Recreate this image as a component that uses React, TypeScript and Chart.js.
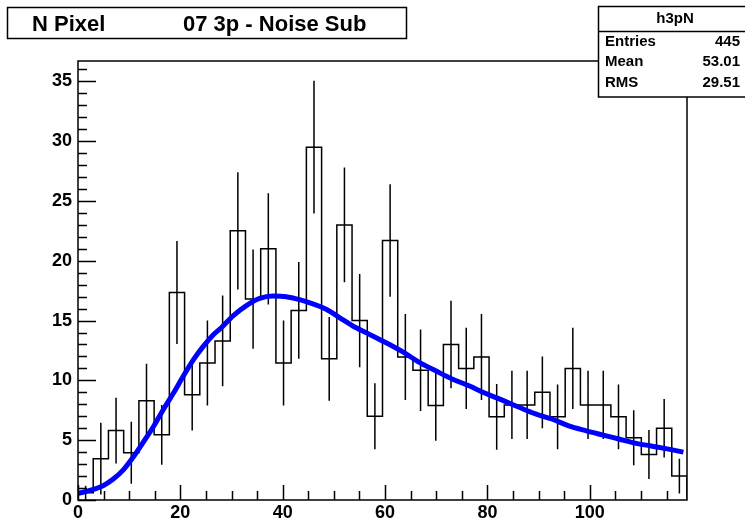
import React, { useEffect, useRef } from "react";
import { Chart, registerables } from "chart.js";

Chart.register(...registerables);

// ---- data ----
const X_MIN = 0;
const X_MAX = 119;
const Y_MIN = 0;
const Y_MAX = 36.7;

const BIN_VALUES = [
  0.6, 3.45, 5.8, 3.95, 8.3, 5.45, 17.35, 8.8, 11.45, 13.3,
  22.5, 16.8, 21.0, 11.45, 15.85, 29.5, 11.8, 23.0, 15.0, 7.0,
  21.7, 11.95, 10.85, 7.9, 13.0, 11.0, 11.95, 6.95, 7.95, 7.95,
  9.0, 6.95, 11.0, 7.95, 7.95, 6.95, 5.2, 3.8, 6.0, 2.0,
];
const BIN_ERRORS = [
  0.6, 3.0, 2.75, 2.6, 3.1, 2.5, 4.3, 3.0, 3.55, 3.8,
  4.9, 4.15, 4.65, 3.55, 4.05, 5.55, 3.5, 4.8, 3.9, 2.75,
  4.7, 3.6, 3.4, 2.95, 3.65, 3.4, 3.6, 2.75, 2.85, 2.85,
  3.0, 2.7, 3.4, 2.85, 2.85, 2.7, 2.3, 2.05, 2.45, 1.45,
];

const FIT_X = [
  0, 2.3, 4.9, 6.9, 8.8, 10.8, 12.7, 14.7, 16.65, 18.6,
  20.5, 22.5, 24.4, 26.4, 28.0, 30.3, 32.9, 35.5, 38.1, 40.7,
  43.3, 45.9, 48.5, 51.1, 53.7, 56.5, 60.2, 63.4, 66.7, 69.9,
  73.2, 76.4, 79.7, 82.9, 86.2, 89.4, 92.7, 95.9, 99.2, 102.4,
  105.7, 108.9, 112.2, 115.4, 118.3,
];
const FIT_Y = [
  0.55, 0.8, 1.2, 1.75, 2.5, 3.6, 4.8, 6.1, 7.55, 8.9,
  10.3, 11.7, 12.8, 13.8, 14.4, 15.4, 16.25, 16.85, 17.05, 17.0,
  16.75, 16.4, 15.95, 15.25, 14.55, 13.95, 13.15, 12.4, 11.5, 10.8,
  10.1, 9.55, 8.9, 8.35, 7.75, 7.2, 6.75, 6.2, 5.8, 5.45,
  5.1, 4.75, 4.5, 4.25, 4.0,
];

const X_MAJOR_STEP = 20;
const X_MINOR_STEP = 5;
const Y_MAJOR_STEP = 5;
const Y_MINOR_STEP = 1;

const TITLE_LEFT = "N Pixel";
const TITLE_RIGHT = "07 3p - Noise Sub";
const STATS_NAME = "h3pN";
const STATS_LABELS = ["Entries", "Mean", "RMS"];
const STATS_VALUES = ["445", "53.01", "29.51"];

const FONT = '"Liberation Sans", Arial, Helvetica, sans-serif';

export default function App() {
  const canvasRef = useRef<HTMLCanvasElement | null>(null);

  useEffect(() => {
    const canvas = canvasRef.current;
    if (!canvas) return;

    const n = BIN_VALUES.length;
    const w = (X_MAX - X_MIN) / n;

    // histogram outline (step)
    const stepData: { x: number; y: number }[] = [{ x: X_MIN, y: 0 }];
    BIN_VALUES.forEach((v, i) => {
      stepData.push({ x: X_MIN + i * w, y: v });
      stepData.push({ x: X_MIN + (i + 1) * w, y: v });
    });
    stepData.push({ x: X_MAX, y: 0 });

    // vertical error bars
    const errData: { x: number; y: number | null }[] = [];
    BIN_VALUES.forEach((v, i) => {
      const c = X_MIN + (i + 0.5) * w;
      errData.push({ x: c, y: Math.max(0, v - BIN_ERRORS[i]) });
      errData.push({ x: c, y: v + BIN_ERRORS[i] });
      errData.push({ x: c, y: null });
    });

    const fitData = FIT_X.map((x, i) => ({ x, y: FIT_Y[i] }));

    const rootPlugin = {
      id: "rootStyle",
      beforeDraw(chart: any) {
        const ctx = chart.ctx;
        ctx.save();
        ctx.fillStyle = "#ffffff";
        ctx.fillRect(0, 0, chart.width, chart.height);
        ctx.restore();
      },
      afterDraw(chart: any) {
        const ctx: CanvasRenderingContext2D = chart.ctx;
        const a = chart.chartArea;
        const xs = chart.scales.x;
        const ys = chart.scales.y;
        ctx.save();
        ctx.strokeStyle = "#000";
        ctx.lineWidth = 1.5;
        ctx.strokeRect(a.left, a.top, a.right - a.left, a.bottom - a.top);

        ctx.beginPath();
        for (let v = X_MIN; v <= X_MAX + 1e-9; v += X_MINOR_STEP) {
          const px = Math.round(xs.getPixelForValue(v)) + 0.5;
          const major = Math.abs(v % X_MAJOR_STEP) < 1e-6;
          ctx.moveTo(px, a.bottom);
          ctx.lineTo(px, a.bottom - (major ? 15 : 9));
        }
        for (let v = Y_MIN; v <= Y_MAX + 1e-9; v += Y_MINOR_STEP) {
          const py = Math.round(ys.getPixelForValue(v)) + 0.5;
          const major = Math.abs(v % Y_MAJOR_STEP) < 1e-6;
          ctx.moveTo(a.left, py);
          ctx.lineTo(a.left + (major ? 18 : 9), py);
        }
        ctx.stroke();

        // title box
        ctx.fillStyle = "#fff";
        ctx.fillRect(7.5, 7.5, 399, 31);
        ctx.strokeRect(7.5, 7.5, 399, 31);
        ctx.fillStyle = "#000";
        ctx.font = `bold 22px ${FONT}`;
        ctx.textBaseline = "alphabetic";
        ctx.textAlign = "left";
        ctx.fillText(TITLE_LEFT, 32, 31);
        ctx.fillText(TITLE_RIGHT, 183, 31);

        // stats box
        ctx.fillStyle = "#fff";
        ctx.fillRect(598.5, 6.5, 150, 90.5);
        ctx.strokeRect(598.5, 6.5, 150, 90.5);
        ctx.beginPath();
        ctx.moveTo(598.5, 31.5);
        ctx.lineTo(745, 31.5);
        ctx.stroke();
        ctx.fillStyle = "#000";
        ctx.textBaseline = "middle";
        ctx.font = `bold 15px ${FONT}`;
        ctx.textAlign = "center";
        ctx.fillText(STATS_NAME, 675, 19);
        const rowsY = [42, 62, 83];
        STATS_LABELS.forEach((lab, i) => {
          ctx.textAlign = "left";
          ctx.fillText(lab, 605, rowsY[i]);
          ctx.textAlign = "right";
          ctx.fillText(STATS_VALUES[i], 740, rowsY[i]);
        });
        ctx.restore();
      },
    };

    const chart = new Chart(canvas, {
      type: "line",
      data: {
        datasets: [
          {
            label: "fit",
            data: fitData,
            borderColor: "#0000ff",
            borderWidth: 5,
            pointRadius: 0,
            tension: 0.4,
            cubicInterpolationMode: "monotone",
            fill: false,
          },
          {
            label: "errors",
            data: errData,
            borderColor: "#000",
            borderWidth: 1.5,
            pointRadius: 0,
            spanGaps: false,
            fill: false,
          },
          {
            label: "hist",
            data: stepData,
            borderColor: "#000",
            borderWidth: 1.5,
            pointRadius: 0,
            tension: 0,
            fill: false,
          },
        ],
      } as any,
      options: {
        animation: false,
        responsive: false,
        maintainAspectRatio: false,
        layout: { padding: { top: 61, right: 58, left: 0, bottom: 0 } },
        plugins: {
          legend: { display: false },
          tooltip: { enabled: false },
          title: { display: false },
        },
        scales: {
          x: {
            type: "linear",
            min: X_MIN,
            max: X_MAX,
            grid: { display: false, drawTicks: false },
            border: { display: false },
            ticks: {
              stepSize: X_MAJOR_STEP,
              includeBounds: false,
              color: "#000",
              font: { family: FONT, size: 18, weight: "bold" },
              padding: 2,
              maxRotation: 0,
              autoSkip: false,
            },
            afterFit(scale: any) {
              scale.height = 20;
            },
          },
          y: {
            type: "linear",
            min: Y_MIN,
            max: Y_MAX,
            grid: { display: false, drawTicks: false },
            border: { display: false },
            ticks: {
              stepSize: Y_MAJOR_STEP,
              includeBounds: false,
              color: "#000",
              font: { family: FONT, size: 18, weight: "bold" },
              padding: 6,
              autoSkip: false,
            },
            afterFit(scale: any) {
              scale.width = 78;
            },
          },
        },
      } as any,
      plugins: [rootPlugin],
    });

    return () => chart.destroy();
  }, []);

  return (
    <div style={{ position: "fixed", left: 0, top: 0, width: 745, height: 520, background: "#fff" }}>
      <canvas ref={canvasRef} width={745} height={520} style={{ width: 745, height: 520, display: "block" }} />
    </div>
  );
}
